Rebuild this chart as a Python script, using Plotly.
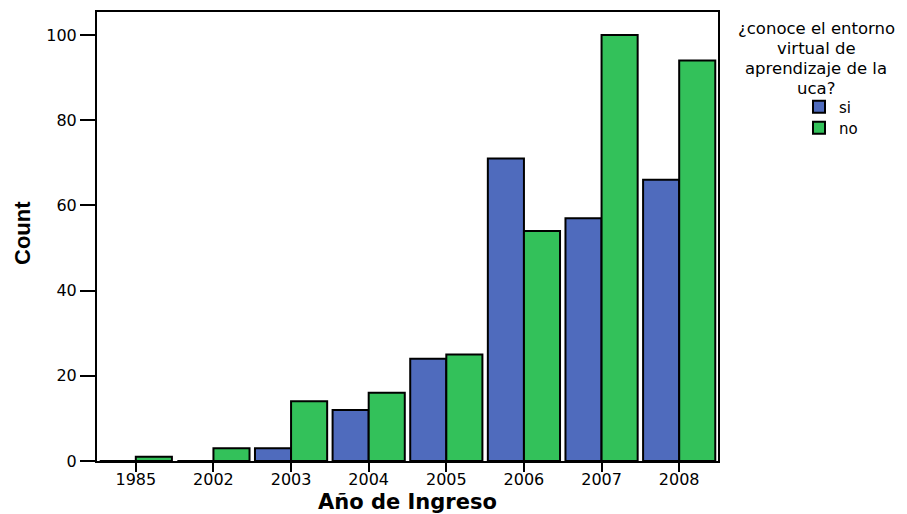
import plotly.graph_objects as go

years = ["1985", "2002", "2003", "2004", "2005", "2006", "2007", "2008"]
si_counts = [0, 0, 3, 12, 24, 71, 57, 66]
no_counts = [1, 3, 14, 16, 25, 54, 100, 94]
y_ticks = [0, 20, 40, 60, 80, 100]
legend_title_lines = ["¿conoce el entorno", "virtual de", "aprendizaje de la", "uca?"]

blue = "#4F6BBD"
green = "#33C15A"
W, H = 907, 514
L, R, T, B = 97, 189, 12, 53
pw, ph = W - L - R, H - T - B

def px_x(x):
    return (x - L) / pw

def px_y(y):
    return (H - B - y) / ph

fig = go.Figure()
fig.add_trace(go.Bar(x=years, y=si_counts, name="si", legend="legend", showlegend=True,
                     marker=dict(color=blue, line=dict(color="black", width=2))))
fig.add_trace(go.Bar(x=years, y=no_counts, name="no", legend="legend2", showlegend=True,
                     marker=dict(color=green, line=dict(color="black", width=2))))

annotations = []
for i, line in enumerate(legend_title_lines):
    annotations.append(dict(text=line, xref="paper", yref="paper",
                            x=px_x(816), y=px_y(28 + 20 * i), xanchor="center", yanchor="middle",
                            showarrow=False, font=dict(size=16.5)))
annotations.append(dict(text="<b>Año de Ingreso</b>", xref="paper", yref="paper",
                        x=px_x(407), y=px_y(502), xanchor="center", yanchor="middle",
                        showarrow=False, font=dict(size=21)))
annotations.append(dict(text="<b>Count</b>", xref="paper", yref="paper",
                        x=px_x(22), y=px_y(233), xanchor="center", yanchor="middle",
                        textangle=-90, showarrow=False,
                        font=dict(size=22, family="Liberation Sans Narrow, Liberation Sans")))

legend_common = dict(xanchor="left", yanchor="middle", bgcolor="rgba(0,0,0,0)",
                     font=dict(size=15))

fig.update_layout(
    width=W, height=H,
    showlegend=True,
    margin=dict(l=L, r=R, t=T, b=B, autoexpand=False),
    barmode="group", bargap=0.07, bargroupgap=0,
    plot_bgcolor="white", paper_bgcolor="white",
    font=dict(family="DejaVu Sans", size=16, color="black"),
    legend=dict(x=px_x(799), y=px_y(107), visible=True, **legend_common),
    legend2=dict(x=px_x(799), y=px_y(128), visible=True, **legend_common),
    xaxis=dict(
        type="category", range=[-0.5, 7.5], automargin=False,
        showline=True, linecolor="black", linewidth=2, mirror=True,
        ticks="outside", ticklen=9, tickwidth=2, tickcolor="black",
        ticklabelstandoff=-6,
        showgrid=False,
    ),
    yaxis=dict(
        range=[0, 105.4], tickvals=y_ticks, automargin=False,
        showline=True, linecolor="black", linewidth=2, mirror=True,
        ticks="outside", ticklen=15, tickwidth=2, tickcolor="black",
        showgrid=False, zeroline=False,
    ),
    annotations=annotations,
)

fig.write_html("out.html", config={"displayModeBar": False},
               post_script="document.body.style.margin='0';")
